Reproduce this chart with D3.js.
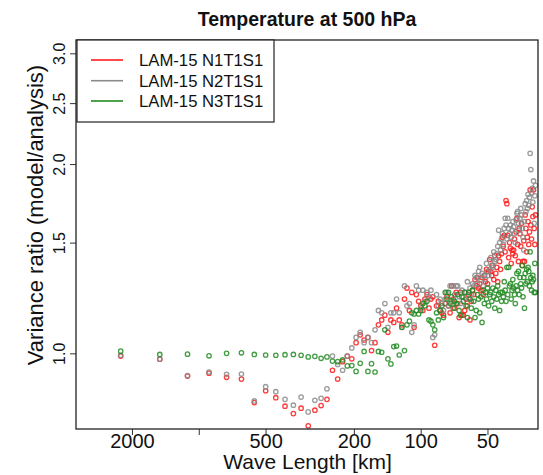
<!DOCTYPE html>
<html>
<head>
	<meta charset="utf-8">
	<title>Temperature at 500 hPa</title>
	<style>
	body { margin: 0; background: #fff; }
	svg text { font-family: "Liberation Sans", Arial, Helvetica, sans-serif; fill: #111; }
	</style>
	<script type="text/javascript" src="https://cdn.jsdelivr.net/npm/d3@7/dist/d3.min.js"></script>
</head>
<body>
	<script type="text/javascript">

		// Data: wavenumbers k=2..148 of a 4496 km domain, wavelength = domain / k
		let domainKm = 4496;
		let wavenumbers = d3.range(2, 149);

		let xTicks = [2000, 1000, 500, 200, 100, 50];
		let xTickLabels = ['2000', '', '500', '200', '100', '50'];
		let yTicks = [1.0, 1.5, 2.0, 2.5, 3.0];
		let yTickLabels = ['1.0', '1.5', '2.0', '2.5', '3.0'];

		let seriesNames = ['LAM-15 N1T1S1', 'LAM-15 N2T1S1', 'LAM-15 N3T1S1'];

		let n1T1S1 = [0.99, 0.979, 0.92, 0.93, 0.916, 0.91, 0.835, 0.872, 0.85, 0.824, 0.802, 0.818, 0.767, 0.812, 0.826, 0.845,
			0.94, 0.91, 0.97, 0.99, 0.98, 1.04, 1.07, 1.05, 1.06, 1.01,
			1.04, 1.11, 1.13, 1.15, 1.08, 1.13, 1.12, 1.18, 1.13, 1.11,
			1.22, 1.27, 1.17, 1.25, 1.10, 1.24, 1.21, 1.19, 1.17, 1.22,
			1.24, 1.18, 1.22, 1.23, 1.03, 1.19, 1.21, 1.17, 1.16, 1.15,
			1.20, 1.23, 1.19, 1.16, 1.28, 1.22, 1.18, 1.25, 1.20, 1.14,
			1.25, 1.15, 1.15, 1.17, 1.22, 1.19, 1.24, 1.13, 1.21, 1.26,
			1.24, 1.31, 1.28, 1.32, 1.27, 1.29, 1.26, 1.32, 1.24, 1.33,
			1.30, 1.36, 1.29, 1.35, 1.41, 1.35, 1.33, 1.38, 1.31, 1.43,
			1.34, 1.37, 1.30, 1.43, 1.40, 1.36, 1.44, 1.53, 1.48, 1.54,
			1.45, 1.75, 1.73, 1.54, 1.42, 1.50, 1.47, 1.39, 1.46, 1.44,
			1.46, 1.52, 1.43, 1.56, 1.64, 1.49, 1.40, 1.58, 1.55, 1.48,
			1.61, 1.38, 1.40, 1.51, 1.40, 1.66, 1.58, 1.45, 1.53, 1.62,
			1.49, 1.56, 1.82, 1.60, 1.52, 1.71, 1.65, 1.82, 1.58, 1.49, 1.66];

		let n2T1S1 = [0.993, 0.979, 0.922, 0.934, 0.926, 0.927, 0.84, 0.885, 0.869, 0.845, 0.827, 0.852, 0.807, 0.842, 0.848, 0.878,
			0.99, 0.96, 0.94, 0.99, 1.02, 1.06, 1.08, 1.04, 1.06, 1.04,
			1.09, 1.17, 1.16, 1.20, 1.10, 1.16, 1.16, 1.22, 1.16, 1.10,
			1.28, 1.19, 1.20, 1.08, 1.11, 1.28, 1.26, 1.18, 1.26, 1.21,
			1.25, 1.23, 1.26, 1.06, 1.07, 1.24, 1.19, 1.22, 1.20, 1.17,
			1.22, 1.25, 1.19, 1.28, 1.21, 1.28, 1.24, 1.28, 1.28, 1.23,
			1.20, 1.26, 1.23, 1.25, 1.25, 1.30, 1.22, 1.27, 1.24, 1.29,
			1.28, 1.33, 1.32, 1.29, 1.35, 1.37, 1.31, 1.34, 1.28, 1.33,
			1.31, 1.39, 1.35, 1.33, 1.36, 1.42, 1.38, 1.37, 1.45, 1.40,
			1.41, 1.44, 1.48, 1.57, 1.50, 1.46, 1.52, 1.55, 1.49, 1.58,
			1.64, 1.60, 1.52, 1.64, 1.58, 1.55, 1.60, 1.53, 1.57, 1.62,
			1.59, 1.55, 1.50, 1.63, 1.67, 1.68, 1.61, 1.57, 1.64, 1.70,
			1.66, 1.58, 1.53, 1.46, 1.62, 1.73, 1.68, 1.75, 1.70, 1.79,
			1.72, 1.77, 2.08, 1.96, 1.80, 1.83, 1.74, 1.88, 1.61, 1.78, 1.85];

		let n3T1S1 = [1.008, 0.996, 0.997, 0.991, 1.0, 1.002, 0.996, 0.994, 0.993, 0.995, 0.996, 0.993, 0.987, 0.989, 0.982, 0.987,
			0.972, 0.97, 0.976, 0.955, 0.956, 0.936, 0.964, 1.007, 0.936, 0.963,
			0.934, 1.007, 1.004, 1.09, 0.98, 0.962, 1.025, 1.027, 0.994, 1.10,
			1.01, 1.11, 1.125, 1.16, 1.155, 1.17, 1.155, 1.17, 1.20, 1.19,
			1.21, 1.13, 1.125, 1.11, 1.09, 1.16, 1.13, 1.17, 1.19, 1.14,
			1.25, 1.22, 1.25, 1.20, 1.23, 1.18, 1.21, 1.20, 1.24, 1.17,
			1.15, 1.23, 1.21, 1.25, 1.19, 1.14, 1.25, 1.22, 1.18, 1.26,
			1.21, 1.14, 1.17, 1.24, 1.22, 1.16, 1.23, 1.12, 1.26, 1.20,
			1.25, 1.22, 1.27, 1.19, 1.24, 1.25, 1.21, 1.27, 1.23, 1.18,
			1.26, 1.22, 1.28, 1.24, 1.17, 1.25, 1.21, 1.25, 1.23, 1.30,
			1.26, 1.21, 1.37, 1.24, 1.37, 1.28, 1.29, 1.22, 1.26, 1.31,
			1.27, 1.24, 1.20, 1.28, 1.34, 1.26, 1.35, 1.24, 1.32, 1.29,
			1.27, 1.38, 1.23, 1.32, 1.18, 1.34, 1.29, 1.36, 1.30, 1.37,
			1.35, 1.28, 1.45, 1.32, 1.26, 1.30, 1.33, 1.31, 1.25, 1.39, 1.25];

		let colors = ['#ff1a1a', '#8a8a8a', '#228b22'];

		let wsvg = 543, hsvg = 475;
		let plot = { left: 76, right: 538, top: 40, bottom: 429 };

		let svg = d3.select('body').append('svg')
					.attr('width', wsvg)
					.attr('height', hsvg);

		// log scales, x reversed (long waves on the left)
		let xScale = d3.scaleLog().domain([3575, 29.6]).range([plot.left, plot.right]);
		let yScale = d3.scaleLog().domain([0.758, 3.15]).range([plot.bottom, plot.top]);

		// title
		svg.append('text').text('Temperature at 500 hPa')
			.attr('x', (plot.left + plot.right) / 2)
			.attr('y', 26)
			.style('font-size', '19.5px')
			.style('font-weight', 'bold')
			.style('text-anchor', 'middle');

		// points
		let allSeries = [n1T1S1, n2T1S1, n3T1S1];
		allSeries.forEach(function(values, s) {
			svg.append('g').selectAll('circle').data(values)
				.enter().append('circle')
				.attr('cx', function(d, i) { return xScale(domainKm / wavenumbers[i]); })
				.attr('cy', function(d) { return yScale(d); })
				.attr('r', 2.2)
				.style('fill', 'none')
				.style('stroke', colors[s])
				.style('stroke-opacity', 0.85)
				.style('stroke-width', 1.3);
		});

		// x axis
		let xAxis = d3.axisBottom(xScale)
						.tickValues(xTicks)
						.tickFormat(function(d, i) { return xTickLabels[i]; })
						.tickSize(6);
		let bAxis = svg.append('g').call(xAxis)
						.attr('transform', 'translate(0,' + plot.bottom + ')');
		bAxis.select('.domain').remove();
		bAxis.selectAll('line').attr('stroke', '#333');
		bAxis.selectAll('text')
			.attr('y', 19).attr('dy', 0)
			.style('font-size', '20px')
			.attr('fill', '#111');

		// y axis
		let yAxis = d3.axisLeft(yScale)
						.tickValues(yTicks)
						.tickFormat(function(d, i) { return yTickLabels[i]; })
						.tickSize(6);
		let lAxis = svg.append('g').call(yAxis)
						.attr('transform', 'translate(' + plot.left + ',0)');
		lAxis.select('.domain').remove();
		lAxis.selectAll('line').attr('stroke', '#333');
		lAxis.selectAll('text')
			.attr('x', 0).attr('y', 0).attr('dy', 0)
			.attr('transform', 'translate(-11,0) rotate(-90)')
			.style('text-anchor', 'middle')
			.style('font-size', '16px')
			.attr('fill', '#111');

		// axis titles
		svg.append('text').text('Wave Length [km]')
			.attr('x', 307.5)
			.attr('y', 469)
			.style('font-size', '21px')
			.style('text-anchor', 'middle');

		svg.append('text').text('Variance ratio (model/analysis)')
			.attr('transform', 'translate(43,215) rotate(-90)')
			.style('font-size', '22px')
			.style('text-anchor', 'middle');

		// frame
		svg.append('rect')
			.attr('x', plot.left).attr('y', plot.top)
			.attr('width', plot.right - plot.left)
			.attr('height', plot.bottom - plot.top)
			.style('fill', 'none')
			.style('stroke', '#222')
			.style('stroke-width', 1.3);

		// legend
		let legend = svg.append('g');
		legend.append('rect')
			.attr('x', 77).attr('y', plot.top)
			.attr('width', 197).attr('height', 82)
			.style('fill', '#fff')
			.style('stroke', '#222')
			.style('stroke-width', 1.2);
		let rowY = [60, 80.7, 101];
		seriesNames.forEach(function(name, i) {
			legend.append('line')
				.attr('x1', 91).attr('x2', 123)
				.attr('y1', rowY[i]).attr('y2', rowY[i])
				.style('stroke', colors[i])
				.style('stroke-width', 1.6);
			legend.append('text').text(name)
				.attr('x', 139)
				.attr('y', rowY[i] + 6)
				.style('font-size', '16.7px');
		});

	</script>
</body>
</html>
